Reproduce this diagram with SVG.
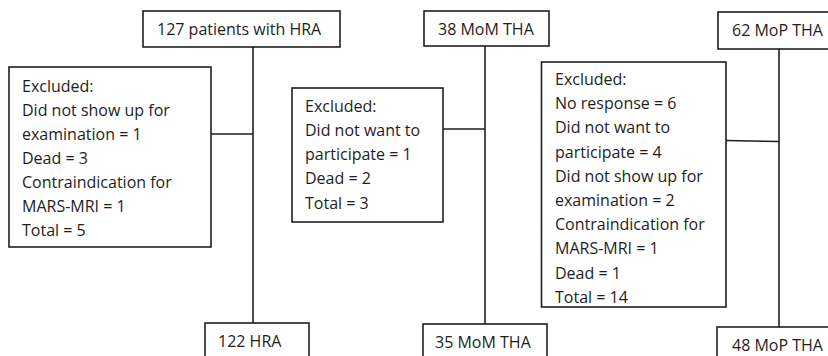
<svg xmlns="http://www.w3.org/2000/svg" width="828" height="356" viewBox="0 0 828 356">
<style>
.box{fill:#ffffff;stroke:#1e1e1e;stroke-width:1.6}
.ln{fill:none;stroke:#1e1e1e;stroke-width:1.6}
text{font-family:"Open Sans","Noto Sans","Liberation Sans",sans-serif;font-size:16px;fill:#1e1e1e}
</style>
<rect width="828" height="356" fill="#ffffff"/>
<g id="connectors">
<line class="ln" x1="253" y1="47" x2="253" y2="323"/>
<line class="ln" x1="211" y1="134" x2="253" y2="134"/>
<line class="ln" x1="485" y1="46" x2="485" y2="324"/>
<line class="ln" x1="443" y1="129" x2="485" y2="129"/>
<line class="ln" x1="779" y1="49" x2="779" y2="327"/>
<line class="ln" x1="726" y1="140.5" x2="779" y2="141.5"/>
</g>
<g id="hra-start">
<rect class="box" x="143" y="11" width="197" height="36"/>
<text x="157" y="35">127 patients with HRA</text>
</g>
<g id="hra-excluded">
<rect class="box" x="9" y="67" width="202" height="180"/>
<text x="22" y="91.5">Excluded:</text>
<text x="22" y="115.5">Did not show up for</text>
<text x="22" y="139.5">examination = 1</text>
<text x="22" y="163.5">Dead = 3</text>
<text x="22" y="187.5">Contraindication for</text>
<text x="22" y="211.7">MARS-MRI = 1</text>
<text x="22" y="235.8">Total = 5</text>
</g>
<g id="hra-end">
<rect class="box" x="205" y="323" width="104" height="40"/>
<text x="218" y="347">122 HRA</text>
</g>
<g id="mom-start">
<rect class="box" x="424" y="11" width="125" height="35"/>
<text x="438" y="35">38 MoM THA</text>
</g>
<g id="mom-excluded">
<rect class="box" x="292" y="88" width="151" height="134"/>
<text x="305" y="111.5">Excluded:</text>
<text x="305" y="135.8">Did not want to</text>
<text x="305" y="160">participate = 1</text>
<text x="305" y="184.3">Dead = 2</text>
<text x="305" y="208.5">Total = 3</text>
</g>
<g id="mom-end">
<rect class="box" x="423" y="324" width="124" height="40"/>
<text x="435" y="347.5">35 MoM THA</text>
</g>
<g id="mop-start">
<rect class="box" x="718" y="12" width="130" height="37"/>
<text x="732" y="35.5">62 MoP THA</text>
</g>
<g id="mop-excluded">
<rect class="box" x="541.5" y="62" width="184.5" height="245"/>
<text x="555" y="85">Excluded:</text>
<text x="555" y="109.2">No response = 6</text>
<text x="555" y="133.4">Did not want to</text>
<text x="555" y="157.6">participate = 4</text>
<text x="555" y="181.8">Did not show up for</text>
<text x="555" y="206">examination = 2</text>
<text x="555" y="230.2">Contraindication for</text>
<text x="555" y="254.4">MARS-MRI = 1</text>
<text x="555" y="278.6">Dead = 1</text>
<text x="555" y="302.8">Total = 14</text>
</g>
<g id="mop-end">
<rect class="box" x="717" y="327" width="130" height="40"/>
<text x="732" y="351">48 MoP THA</text>
</g>
</svg>
